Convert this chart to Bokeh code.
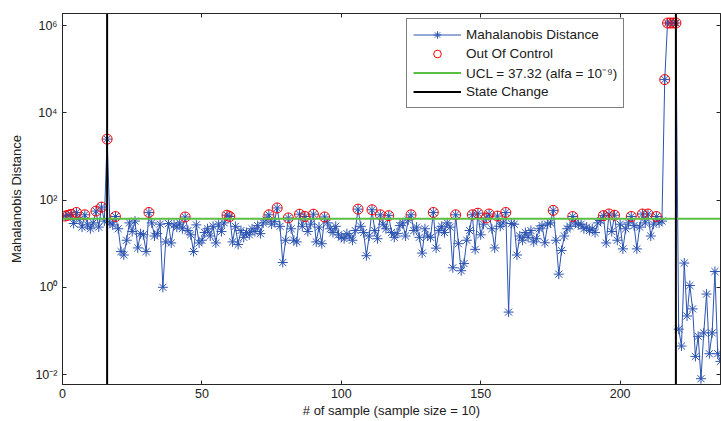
from bokeh.plotting import figure
from bokeh.models import (Range1d, FixedTicker, LinearAxis, LogAxis, Legend, LegendItem)
from bokeh.embed import file_html
from bokeh.resources import INLINE

# ---------------- data ----------------
md_values = [
    43, 45, 47, 29, 52, 36, 24, 46, 27, 22,
    30, 56, 24, 69, 33, 2500, 30, 27, 42, 22,
    6.6, 5.5, 12, 30, 19, 33, 8, 17, 16, 6.6,
    52, 30, 15, 17, 28, 1.0, 11, 29, 10.4, 27,
    24, 30, 22, 41, 20, 16, 6.6, 27, 10.4, 12,
    18, 22, 15, 25, 10.4, 28, 19, 30, 45, 42,
    11, 25, 9.6, 20, 14, 18, 16, 22, 19, 26,
    17, 30, 35, 46, 28, 32, 66, 25, 3.7, 12,
    39, 22, 12, 11, 47.5, 25, 42, 19, 28, 47.5,
    11, 24, 10, 41, 30, 22, 18, 25, 16, 14,
    13, 17, 15, 12, 20, 62, 25, 18, 5.3, 15,
    60, 20, 13, 46, 28, 22, 44, 18, 14, 17,
    26, 30, 15, 35, 46, 20, 24, 14, 6.1, 22,
    15, 14, 52, 7.9, 20, 25, 18, 30, 24, 2.8,
    46, 10, 2.4, 3.5, 12, 20, 46, 7.4, 50, 16,
    28, 39, 48, 22, 8, 43, 25, 30, 52, 0.27,
    29, 28, 5.5, 15, 12, 18, 14, 20, 11, 13,
    22, 26, 10.5, 28, 30, 58, 12, 2.0, 7, 15,
    22, 25, 42, 30, 27, 28, 22, 24, 20, 22,
    18, 30, 34, 44, 10.4, 48, 19, 45, 12, 28,
    7.6, 22, 30, 42, 26, 7.6, 24, 48, 30, 48,
    15, 28, 42, 30, 33, 58000, 1.15e6, 1.15e6, 1.15e6, 1.15e6,
    0.11, 0.045, 3.6, 0.22, 1.1, 0.32, 0.026, 0.075, 0.008, 0.09,
    0.7, 0.03, 0.09, 2.3, 0.03, 0.02,
]
sample_index = list(range(1, len(md_values) + 1))
ucl_value = 37.32
state_change_x = [16, 220]

x_limits = [0, 236]
y_limits = [0.0059, 1.9e6]
x_ticks = [0, 50, 100, 150, 200]
y_ticks = [0.01, 1.0, 100.0, 10000.0, 1000000.0]
y_tick_labels = ["10\u207b\u00b2", "10\u2070", "10\u00b2", "10\u2074", "10\u2076"]

oc_x = [xi for xi, v in zip(sample_index, md_values) if v > ucl_value]
oc_y = [v for v in md_values if v > ucl_value]

# ---------------- style ----------------
FONT = "Liberation Sans"
BLUE = "#2c54b0"
GREEN = "#5cbf45"
AX = "#262626"
TXT = "#202020"

p = figure(width=721, height=421,
           x_range=Range1d(*x_limits), y_range=Range1d(*y_limits),
           y_axis_type="log", output_backend="svg", toolbar_location=None,
           min_border_left=62, min_border_top=13, min_border_right=1,
           min_border_bottom=37,
           x_axis_label="# of sample (sample size = 10)",
           y_axis_label="Mahalanobis Distance")
p.grid.visible = False
p.outline_line_color = AX
p.outline_line_width = 1
p.background_fill_color = "white"
p.border_fill_color = "white"

for ax in [p.xaxis[0], p.yaxis[0]]:
    ax.major_tick_in = 4
    ax.major_tick_out = 0
    ax.minor_tick_in = 0
    ax.minor_tick_out = 0
    ax.axis_line_color = AX
    ax.major_tick_line_color = AX
    ax.major_label_text_font = FONT
    ax.major_label_text_font_size = "12.5px"
    ax.major_label_text_color = TXT
    ax.axis_label_text_font = FONT
    ax.axis_label_text_font_size = "13px"
    ax.axis_label_text_font_style = "normal"
    ax.axis_label_text_color = TXT

p.xaxis[0].ticker = FixedTicker(ticks=x_ticks, minor_ticks=[])
p.xaxis[0].major_label_standoff = 4
p.xaxis[0].axis_label_standoff = 2
p.yaxis[0].ticker = FixedTicker(ticks=y_ticks, minor_ticks=[])
p.yaxis[0].major_label_overrides = dict(zip(y_ticks, y_tick_labels))
p.yaxis[0].major_label_standoff = 5
p.yaxis[0].axis_label_standoff = 8

top_axis = LinearAxis(ticker=FixedTicker(ticks=x_ticks, minor_ticks=[]),
                      major_label_overrides={t: "" for t in x_ticks},
                      major_tick_in=4, major_tick_out=0,
                      minor_tick_in=0, minor_tick_out=0,
                      major_label_standoff=0,
                      axis_line_color=AX, major_tick_line_color=AX)
right_axis = LogAxis(ticker=FixedTicker(ticks=y_ticks, minor_ticks=[]),
                     major_label_overrides={t: "" for t in y_ticks},
                     major_tick_in=4, major_tick_out=0,
                     minor_tick_in=0, minor_tick_out=0,
                     major_label_standoff=0,
                     axis_line_color=AX, major_tick_line_color=AX)
p.add_layout(top_axis, "above")
p.add_layout(right_axis, "right")

# ---------------- glyphs ----------------
r_line = p.line(sample_index, md_values, line_color=BLUE, line_width=1)
r_star = p.scatter(sample_index, md_values, marker="asterisk", size=10,
                   line_color=BLUE, line_width=1)
r_oc = p.scatter(oc_x, oc_y, marker="circle", size=10, fill_color=None,
                 line_color="red", line_width=1)
r_ucl = p.line(x_limits, [ucl_value, ucl_value], line_color=GREEN, line_width=2)
r_sc = p.multi_line([[s, s] for s in state_change_x],
                    [y_limits for _ in state_change_x],
                    line_color="black", line_width=2)

legend = Legend(items=[
    LegendItem(label="Mahalanobis Distance", renderers=[r_line, r_star]),
    LegendItem(label="Out Of Control", renderers=[r_oc]),
    LegendItem(label="UCL = 37.32 (alfa = 10\u207b\u2079)", renderers=[r_ucl]),
    LegendItem(label="State Change", renderers=[r_sc]),
], location=(344, 276))
legend.label_text_font = FONT
legend.label_text_font_size = "13.5px"
legend.label_text_color = TXT
legend.glyph_width = 48
legend.glyph_height = 19
legend.label_height = 19
legend.label_standoff = 5
legend.spacing = 0
legend.padding = 6
legend.margin = 0
legend.border_line_color = "black"
legend.border_line_width = 1
legend.background_fill_color = "white"
legend.background_fill_alpha = 1
p.add_layout(legend, "center")

open("out.html", "w").write(file_html(p, INLINE))
